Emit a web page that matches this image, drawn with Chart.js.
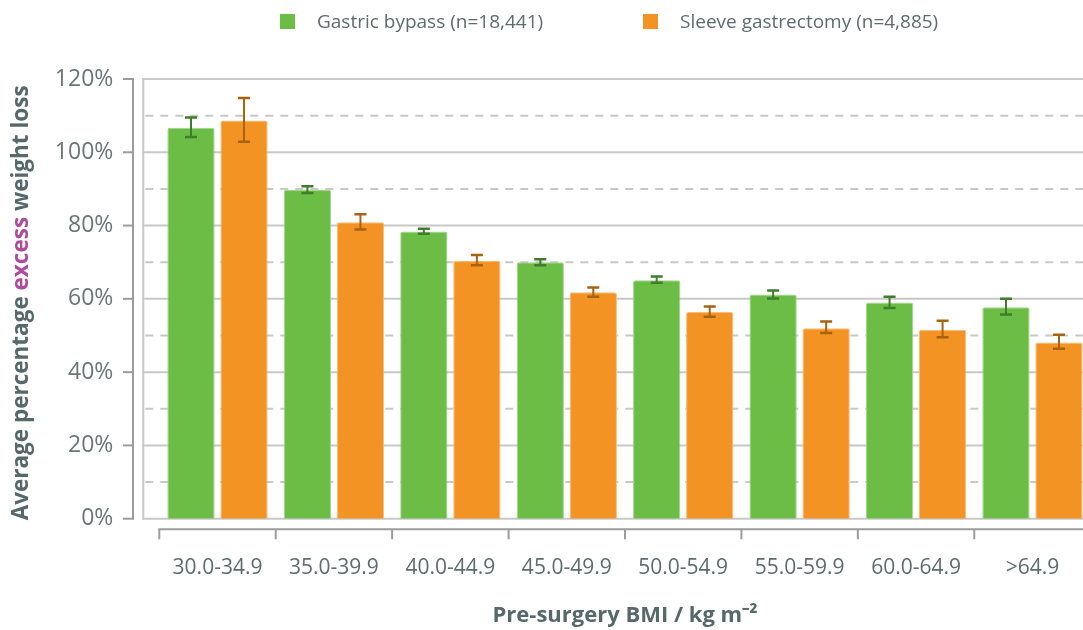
<!DOCTYPE html>
<html><head><meta charset="utf-8">
<script src="https://cdn.jsdelivr.net/npm/chart.js@4.4.1/dist/chart.umd.min.js"></script>
<style>
html,body{margin:0;padding:0;background:#fff;overflow:hidden;width:1083px;height:630px;}
#wrap{position:relative;width:1100px;height:630px;}
#legend{position:absolute;top:0;left:0;width:1083px;height:40px;font-family:'Open Sans',sans-serif;font-size:19px;color:#5f6b6d;}
.item{position:absolute;top:8px;height:26px;display:flex;align-items:center;white-space:nowrap;}
.sw{width:15px;height:15px;margin-right:22px;flex:none;}
</style></head>
<body><div id="wrap"><canvas id="c" width="1100" height="630"></canvas><div id="legend"></div></div>
<script>
// ---- data ----
const categories = ['30.0-34.9','35.0-39.9','40.0-44.9','45.0-49.9','50.0-54.9','55.0-59.9','60.0-64.9','>64.9'];
const seriesNames = ['Gastric bypass (n=18,441)','Sleeve gastrectomy (n=4,885)'];
const gastricBypass = [106.7, 89.8, 78.4, 70.0, 65.1, 61.2, 59.0, 57.7];
const gastricLow    = [104.2, 88.9, 77.8, 69.2, 64.4, 60.1, 57.5, 55.7];
const gastricHigh   = [109.5, 90.7, 79.1, 70.8, 66.1, 62.3, 60.6, 60.0];
const sleeve        = [108.7, 80.9, 70.4, 61.8, 56.4, 52.0, 51.6, 48.1];
const sleeveLow     = [102.9, 78.9, 69.2, 60.6, 55.1, 50.7, 49.5, 46.4];
const sleeveHigh    = [114.8, 83.1, 72.0, 63.1, 57.9, 53.8, 54.0, 50.2];
const yTickValues = [0, 20, 40, 60, 80, 100, 120];
const yTitleParts = ['Average percentage ', 'excess', ' weight loss'];
const xTitle = 'Pre-surgery BMI / kg m\u207B\u00B2';

// ---- styles ----
const COLORS = ['#6cbd45', '#f39323'];
const EDGE = ['#a4d68a', '#f7bd7a'];
const ERR = ['#3f7c2c', '#a9620f'];
const TEXT = '#5f6c6e';
const TITLE = '#56686a';
const MAGENTA = '#b04a9c';
const GRID = '#c8c8c8';
const AXIS = '#9c9c9c';
const FONT = "'Open Sans', sans-serif";

// legend (HTML)
const legendEl = document.getElementById('legend');
const legendLeft = [280, 643];
seriesNames.forEach((n, i) => {
  const d = document.createElement('div');
  d.className = 'item';
  d.style.left = legendLeft[i] + 'px';
  const s = document.createElement('span');
  s.className = 'sw'; s.style.background = COLORS[i];
  const t = document.createElement('span'); t.textContent = n;
  d.appendChild(s); d.appendChild(t);
  legendEl.appendChild(d);
});

const FRAME_GAP = 16, YAXIS_GAP = 26.3, XAXIS_GAP = 10.6, TICK = 10, CAP = 6;

const framePlugin = {
  id: 'frame',
  beforeDatasetsDraw(chart) {
    const {ctx, chartArea: ca, scales: {y}} = chart;
    const left = ca.left - FRAME_GAP, right = chart.width;
    ctx.save();
    ctx.lineWidth = 2;
    ctx.strokeStyle = GRID;
    ctx.setLineDash([8, 7]);
    for (let i = 0; i < yTickValues.length - 1; i++) {
      const v = (yTickValues[i] + yTickValues[i + 1]) / 2;
      const py = y.getPixelForValue(v);
      ctx.beginPath(); ctx.moveTo(left + 2, py); ctx.lineTo(right, py); ctx.stroke();
    }
    ctx.setLineDash([]);
    yTickValues.forEach(v => {
      const py = y.getPixelForValue(v);
      ctx.beginPath(); ctx.moveTo(left - 1, py); ctx.lineTo(right, py); ctx.stroke();
    });
    const top = y.getPixelForValue(yTickValues[yTickValues.length - 1]);
    const bot = y.getPixelForValue(0);
    ctx.beginPath(); ctx.moveTo(left, top - 1); ctx.lineTo(left, bot + 1); ctx.stroke();
    ctx.restore();
  },
  afterDraw(chart) {
    const {ctx, chartArea: ca, scales: {x, y}} = chart;
    ctx.save();
    ctx.strokeStyle = AXIS; ctx.lineWidth = 2;
    const ax = ca.left - YAXIS_GAP;
    const top = y.getPixelForValue(yTickValues[yTickValues.length - 1]);
    const bot = y.getPixelForValue(0);
    ctx.beginPath(); ctx.moveTo(ax, top - 1); ctx.lineTo(ax, bot + 1); ctx.stroke();
    yTickValues.forEach(v => {
      const py = y.getPixelForValue(v);
      ctx.beginPath(); ctx.moveTo(ax - TICK, py); ctx.lineTo(ax, py); ctx.stroke();
    });
    const ay = ca.bottom + XAXIS_GAP;
    const half = (x.getPixelForValue(1) - x.getPixelForValue(0)) / 2;
    const first = x.getPixelForValue(0) - half;
    ctx.beginPath(); ctx.moveTo(first - 1, ay); ctx.lineTo(chart.width, ay); ctx.stroke();
    categories.forEach((c, i) => {
      const px = x.getPixelForValue(i) - half;
      ctx.beginPath(); ctx.moveTo(px, ay); ctx.lineTo(px, ay + TICK); ctx.stroke();
    });
    // y title (multi-colour)
    ctx.font = "bold 22.5px " + FONT;
    ctx.textBaseline = 'alphabetic';
    ctx.textAlign = 'left';
    const widths = yTitleParts.map(p => ctx.measureText(p).width);
    const total = widths.reduce((a, b) => a + b, 0);
    const cy = (ca.top + ca.bottom) / 2 + 4;
    ctx.translate(28, cy);
    ctx.rotate(-Math.PI / 2);
    let cx = -total / 2;
    yTitleParts.forEach((p, i) => {
      ctx.fillStyle = i === 1 ? MAGENTA : TITLE;
      ctx.fillText(p, cx, 0);
      cx += widths[i];
    });
    ctx.restore();
  }
};

const errorPlugin = {
  id: 'errbars',
  afterDatasetsDraw(chart) {
    const {ctx, scales: {y}} = chart;
    const lows = [gastricLow, sleeveLow], highs = [gastricHigh, sleeveHigh];
    ctx.save();
    chart.data.datasets.forEach((ds, di) => {
      const meta = chart.getDatasetMeta(di);
      ctx.strokeStyle = ERR[di];
      meta.data.forEach((bar, j) => {
        const yl = y.getPixelForValue(lows[di][j]);
        const yh = y.getPixelForValue(highs[di][j]);
        ctx.lineWidth = 2;
        ctx.beginPath(); ctx.moveTo(bar.x, yl); ctx.lineTo(bar.x, yh); ctx.stroke();
        ctx.lineWidth = 2.5;
        ctx.beginPath();
        ctx.moveTo(bar.x - CAP, yl); ctx.lineTo(bar.x + CAP, yl);
        ctx.moveTo(bar.x - CAP, yh); ctx.lineTo(bar.x + CAP, yh);
        ctx.stroke();
      });
    });
    ctx.restore();
  }
};

new Chart(document.getElementById('c'), {
  type: 'bar',
  data: {
    labels: categories,
    datasets: [
      {label: seriesNames[0], data: gastricBypass, backgroundColor: COLORS[0], borderColor: EDGE[0], borderWidth: 1, borderRadius: 2},
      {label: seriesNames[1], data: sleeve, backgroundColor: COLORS[1], borderColor: EDGE[1], borderWidth: 1, borderRadius: 2}
    ]
  },
  options: {
    responsive: false,
    animation: false,
    layout: {padding: {left: 54.3, right: 9.3, top: 79, bottom: 0}},
    datasets: {bar: {barPercentage: 0.892, categoryPercentage: 0.911}},
    plugins: {legend: {display: false}, tooltip: {enabled: false}},
    scales: {
      x: {
        type: 'category', offset: true,
        grid: {display: false, drawTicks: false}, border: {display: false},
        ticks: {font: {family: FONT, size: 21}, color: TEXT, padding: 37, maxRotation: 0, autoSkip: false},
        title: {display: true, text: xTitle, font: {family: FONT, size: 22, weight: 'bold'}, color: TITLE, padding: {top: 0, bottom: 1}},
        afterFit(s) { s.height = 111.3; }
      },
      y: {
        min: 0, max: 120,
        grid: {display: false, drawTicks: false}, border: {display: false},
        ticks: {stepSize: 20, callback: v => v + '%', font: {family: FONT, size: 23}, color: '#6a7677', padding: 46},
        afterFit(s) { s.width = 105; }
      }
    }
  },
  plugins: [framePlugin, errorPlugin]
});
</script>
</body></html>
